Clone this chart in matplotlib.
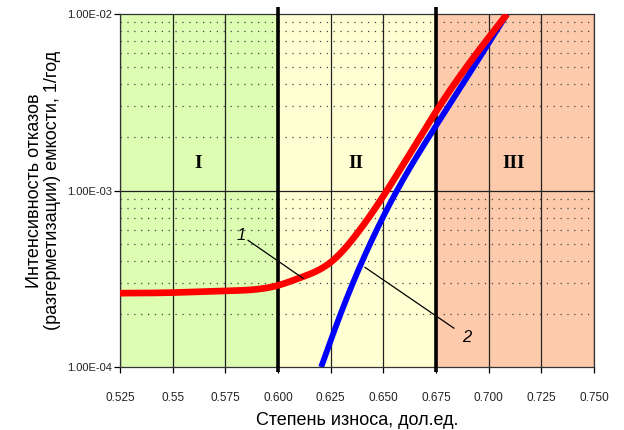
import matplotlib
matplotlib.use("Agg")
import matplotlib.pyplot as plt
import numpy as np
from matplotlib.ticker import FixedLocator, NullFormatter

# ---- data ----
x_ticks = [0.525, 0.55, 0.575, 0.600, 0.625, 0.650, 0.675, 0.700, 0.725, 0.750]
x_tick_labels = ["0.525", "0.55", "0.575", "0.600", "0.625", "0.650", "0.675", "0.700", "0.725", "0.750"]
y_ticks = [1e-4, 1e-3, 1e-2]
y_tick_labels = ["1.00E-04", "1.00E-03", "1.00E-02"]

curve1_x = [0.525, 0.550, 0.575, 0.600, 0.6104, 0.625, 0.6375, 0.6517, 0.6783, 0.7087]
curve1_y = [2.62e-4, 2.64e-4, 2.70e-4, 2.90e-4, 3.20e-4, 3.92e-4, 5.7e-4, 1.0e-3, 3.22e-3, 1.0e-2]

curve2_x = [0.6205, 0.630, 0.640, 0.6565, 0.6826, 0.7087]
curve2_y = [1.0e-4, 2.04e-4, 3.98e-4, 1.0e-3, 3.22e-3, 1.0e-2]

zones = [(0.525, 0.600), (0.600, 0.675), (0.675, 0.750)]
zone_labels = ["I", "II", "III"]
zone_colors = ["#DDFDB2", "#FFFFD4", "#FDCBAB"]
boundaries = [0.600, 0.675]

fig = plt.figure(figsize=(6.24, 4.30), dpi=100)
ax = fig.add_axes([0.1923, 0.1465, 0.9519 - 0.1923, 0.9674 - 0.1465])
ax.set_yscale("log")
ax.set_xlim(0.525, 0.750)
ax.set_ylim(1e-4, 1e-2)

for (a, b), c in zip(zones, zone_colors):
    ax.axvspan(a, b, color=c, zorder=0, lw=0)

# grid
for xt in x_ticks:
    ax.axvline(xt, color="#222222", lw=0.9, zorder=1)
ax.axhline(1e-3, color="#222222", lw=0.9, zorder=1)
for dec in [1e-4, 1e-3]:
    for k in range(2, 10):
        ax.axhline(k * dec, color="#444444", lw=0.9, ls=(0, (1, 4.5)), zorder=1)

for bnd in boundaries:
    ax.plot([bnd, bnd], [0.94e-4, 1.1e-2], color="black", lw=2.6, zorder=3, clip_on=False,
            solid_capstyle="butt")

# natural cubic spline through read points (log space)
def smooth(xs, ys, n=300):
    xs = np.asarray(xs, float); ly = np.log10(ys)
    N = len(xs); h = np.diff(xs)
    A = np.zeros((N, N)); r = np.zeros(N)
    A[0, 0] = 1; A[-1, -1] = 1
    for i in range(1, N - 1):
        A[i, i - 1] = h[i - 1]; A[i, i] = 2 * (h[i - 1] + h[i]); A[i, i + 1] = h[i]
        r[i] = 6 * ((ly[i + 1] - ly[i]) / h[i] - (ly[i] - ly[i - 1]) / h[i - 1])
    M = np.linalg.solve(A, r)
    t = np.linspace(xs[0], xs[-1], n)
    out = np.empty_like(t)
    for j, tt in enumerate(t):
        i = int(np.clip(np.searchsorted(xs, tt) - 1, 0, N - 2))
        a = xs[i + 1] - tt; b = tt - xs[i]
        out[j] = (M[i] * a**3 + M[i + 1] * b**3) / (6 * h[i]) \
            + (ly[i] / h[i] - M[i] * h[i] / 6) * a + (ly[i + 1] / h[i] - M[i + 1] * h[i] / 6) * b
    return t, 10**out

sx, sy = smooth(curve1_x, curve1_y)
ax.plot(sx, sy, color="#FF0000", lw=4.8, zorder=5, solid_capstyle="butt")
sx, sy = smooth(curve2_x, curve2_y)
ax.plot(sx, sy, color="#0000FF", lw=4.2, zorder=4, solid_capstyle="butt")

# zone labels
for (a, b), lab in zip(zones, zone_labels):
    ax.text((a + b) / 2 - 0.0005, 1.42e-3, lab, fontsize=14, fontweight="bold",
            family="Liberation Serif", ha="center", va="center", zorder=6)

# curve annotations
ax.plot([0.5858, 0.6119], [5.22e-4, 3.18e-4], color="black", lw=0.9, zorder=6)
ax.text(0.5824, 5.57e-4, "1", fontsize=12, style="italic", family="Liberation Sans",
        ha="center", va="center", zorder=6)
ax.plot([0.6413, 0.6835], [3.67e-4, 1.66e-4], color="black", lw=0.9, zorder=6)
ax.text(0.6897, 1.46e-4, "2", fontsize=12, style="italic", family="Liberation Sans",
        ha="center", va="center", zorder=6)

# ticks
ax.xaxis.set_major_locator(FixedLocator(x_ticks))
ax.set_xticklabels(x_tick_labels, fontsize=8.5, family="Liberation Sans", color="#222222")
ax.yaxis.set_major_locator(FixedLocator(y_ticks))
ax.yaxis.set_minor_locator(FixedLocator([]))
ax.yaxis.set_minor_formatter(NullFormatter())
ax.set_yticklabels(y_tick_labels, fontsize=8, family="Liberation Sans", color="#222222")
ax.tick_params(axis="x", length=4, width=0.9, pad=14, direction="out")
ax.tick_params(axis="y", length=4, width=0.9, pad=2, direction="out")

for s in ax.spines.values():
    s.set_color("#333333"); s.set_linewidth(0.9)

ax.set_xlabel("Степень износа, дол.ед.", fontsize=13, family="Liberation Sans", labelpad=6)
ax.set_ylabel("Интенсивность отказов\n(разгерметизации) емкости, 1/год", fontsize=13,
              family="Liberation Sans", labelpad=4, linespacing=1.1)

fig.savefig("out.png", dpi=100)
